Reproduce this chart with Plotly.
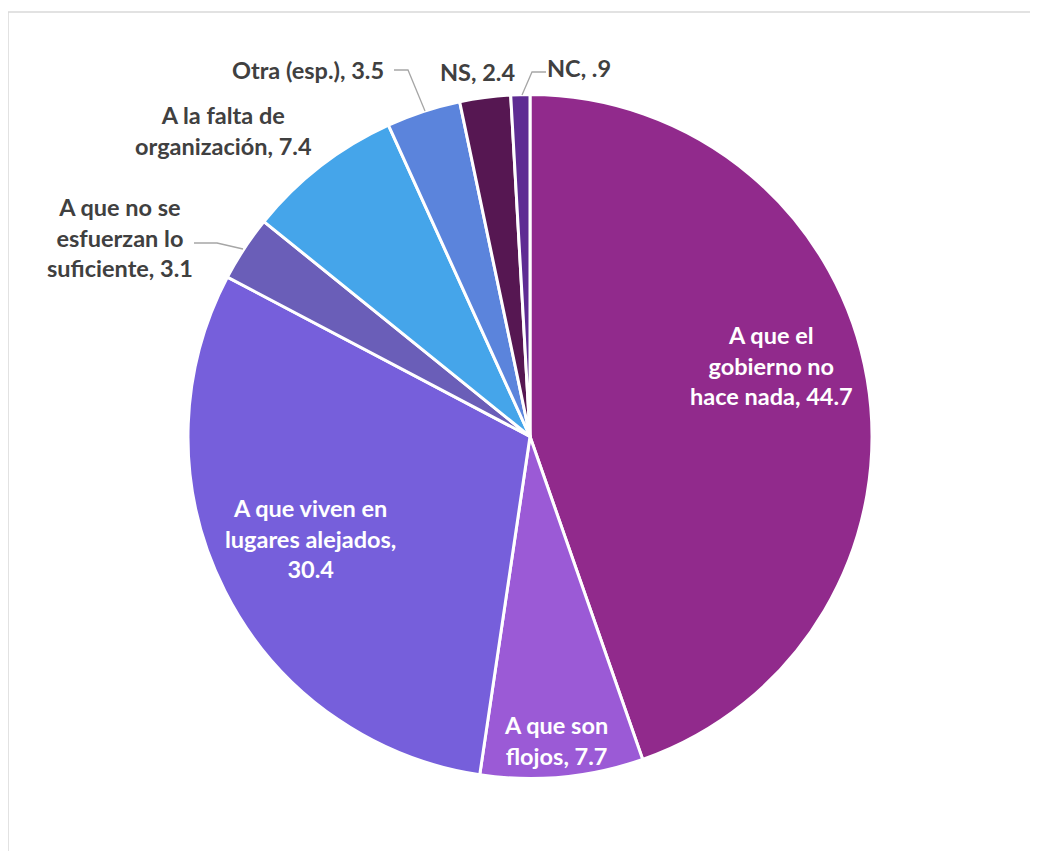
import plotly.graph_objects as go

OFF = 8  # page body margin
W, H = 1038 - OFF, 859 - 2 * OFF  # figure fits inside the window without scrolling

labels = [
    "A que el<br>gobierno no<br>hace nada",
    "A que son<br>flojos",
    "A que viven en<br>lugares alejados,<br>",
    "A que no se<br>esfuerzan lo<br>suficiente",
    "A la falta de<br>organización",
    "Otra (esp.)",
    "NS",
    "NC",
]
values = [44.7, 7.7, 30.4, 3.1, 7.4, 3.5, 2.4, 0.9]
colors = ["#912A8C", "#9B5AD6", "#765FDB", "#6A5EB8", "#45A5EA", "#5B84DC", "#561752", "#5E2C93"]

# label layout (pixel centers in the screenshot), text colour
label_pos = [
    (771, 365, "white"),
    (556, 740, "white"),
    (310, 538, "white"),
    (120, 237, "#404040"),
    (223, 131, "#404040"),
    (308, 70, "#404040"),
    (477, 72, "#404040"),
    (579, 68, "#404040"),
]


def fmt(v):
    s = f"{v:.1f}"
    return s[1:] if s.startswith("0") else s


def px(x, y):
    return (x - OFF) / W, 1 - (y - OFF) / H


cx, cy, r = 530, 436.5, 342
x0, y0 = px(cx - r, cy + r)
x1, y1 = px(cx + r, cy - r)
fig = go.Figure(go.Pie(
    labels=[l.replace("<br>", " ") for l in labels],
    values=values,
    sort=False,
    direction="clockwise",
    rotation=0,
    marker=dict(colors=colors, line=dict(color="white", width=3)),
    textinfo="none",
    hoverinfo="label+value",
    showlegend=False,
    domain=dict(x=[x0, x1], y=[y0, y1]),
))

annotations = []
for lab, v, (x, y, c) in zip(labels, values, label_pos):
    if lab.endswith("<br>"):
        text = f"<b>{lab}{fmt(v)}</b>"
    else:
        text = f"<b>{lab}, {fmt(v)}</b>"
    ax, ay = px(x, y)
    annotations.append(dict(
        x=ax, y=ay, xref="paper", yref="paper", text=text, showarrow=False,
        xanchor="center", yanchor="middle", align="center",
        font=dict(family="Lato", size=23.5, color=c),
    ))

shapes = []
# chart border (left and top edges visible only)
bx, by = px(8, 12)
shapes.append(dict(type="path", xref="paper", yref="paper",
                   path=f"M {bx},0 L {bx},{by} L 1,{by}",
                   line=dict(color="#D9D9D9", width=1.5)))


def leader(points):
    d = "M " + " L ".join("{},{}".format(*px(x, y)) for x, y in points)
    return dict(type="path", xref="paper", yref="paper", path=d,
                line=dict(color="#A6A6A6", width=1.3))


shapes.append(leader([(194, 243), (217, 243), (243, 249)]))
shapes.append(leader([(394, 70), (408, 70), (425, 111)]))
shapes.append(leader([(546, 72), (532, 72), (522, 95)]))

fig.update_layout(
    width=W, height=H,
    margin=dict(l=0, r=0, t=0, b=0),
    paper_bgcolor="white",
    annotations=annotations,
    shapes=shapes,
)

fig.write_html("out.html")
